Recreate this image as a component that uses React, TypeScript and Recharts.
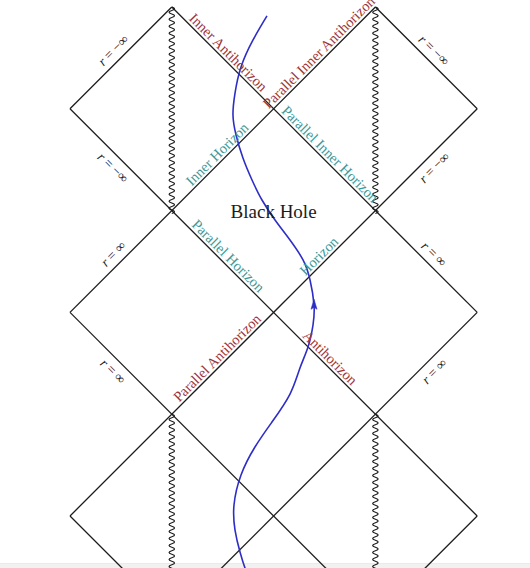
import React from "react";
import { LineChart, Line, XAxis, YAxis, ReferenceLine, ReferenceDot } from "recharts";

type Pt = [number, number];

// Diagram units: column 0–4 runs left to right, row 0–5 runs top to bottom.
const risingEdges: Pt[][] = [
  [[0, 1], [1, 0]],
  [[0, 3], [3, 0]],
  [[0, 5], [4, 1]],
  [[1.4, 5.6], [4, 3]],
  [[3.4, 5.6], [4, 5]],
];

const fallingEdges: Pt[][] = [
  [[1, 0], [4, 3]],
  [[0, 1], [4, 5]],
  [[0, 3], [2.6, 5.6]],
  [[0, 5], [0.6, 5.6]],
  [[3, 0], [4, 1]],
];

const singularities: Pt[][] = [
  [[1, 0], [1, 2]],
  [[3, 0], [3, 2]],
  [[1, 4], [1, 5.6]],
  [[3, 4], [3, 5.6]],
];

const worldline: Pt[] = [
  [1.935, 0.088], [1.798, 0.324], [1.68, 0.589], [1.621, 0.845], [1.601, 1.061],
  [1.631, 1.257], [1.699, 1.483], [1.788, 1.699], [1.886, 1.896], [2.014, 2.092],
  [2.161, 2.289], [2.289, 2.485], [2.358, 2.682], [2.397, 2.927], [2.387, 3.124],
  [2.338, 3.34], [2.259, 3.546], [2.161, 3.802], [1.984, 4.077], [1.817, 4.322],
  [1.68, 4.597], [1.611, 4.892], [1.621, 5.138], [1.67, 5.354], [1.719, 5.511],
  [1.749, 5.58],
];
const arrowAt: Pt = [2.397, 2.93];

const horizonNames = [
  "Inner Antihorizon",
  "Parallel Inner Antihorizon",
  "Inner Horizon",
  "Parallel Inner Horizon",
  "Parallel Horizon",
  "Horizon",
  "Parallel Antihorizon",
  "Antihorizon",
];
const horizonEdges: Pt[][] = [
  [[1, 0], [2, 1]],
  [[2, 1], [3, 0]],
  [[1, 2], [2, 1]],
  [[2, 1], [3, 2]],
  [[1, 2], [2, 3]],
  [[2, 3], [3, 2]],
  [[1, 4], [2, 3]],
  [[2, 3], [3, 4]],
];
const horizonIsAnti = [true, true, false, false, false, false, true, true];

const boundaryValues = ["−∞", "−∞", "−∞", "−∞", "∞", "∞", "∞", "∞"];
const boundaryEdges: Pt[][] = [
  [[0, 1], [1, 0]],
  [[0, 1], [1, 2]],
  [[3, 0], [4, 1]],
  [[4, 1], [3, 2]],
  [[0, 3], [1, 2]],
  [[0, 3], [1, 4]],
  [[3, 2], [4, 3]],
  [[4, 3], [3, 4]],
];

const regionName = "Black Hole";
const regionAt: Pt = [2, 2];

const UNIT = 101.8;
const X_DOMAIN = [-70 / UNIT, 460 / UNIT];
const Y_DOMAIN = [-7 / UNIT, 561 / UNIT];

const INK = "#1c1c1c";
const BLUE = "#2e2ec6";
const RED = "#9c3434";
const TEAL = "#379a9a";
const SERIF = '"Liberation Serif", "Times New Roman", serif';

const toRows = (pts: Pt[]) => pts.map(([x, y]) => ({ x, y }));

// angle and unit normal of an edge; units are square so this holds in pixels too
function edgeGeometry(edge: Pt[], pickNormal: (nx: number, ny: number, mx: number) => boolean) {
  let [[x1, y1], [x2, y2]] = edge;
  if (x2 < x1) [x1, y1, x2, y2] = [x2, y2, x1, y1];
  const dx = x2 - x1;
  const dy = y2 - y1;
  const len = Math.hypot(dx, dy);
  let nx = dy / len;
  let ny = -dx / len;
  const mx = (x1 + x2) / 2;
  const my = (y1 + y2) / 2;
  if (!pickNormal(nx, ny, mx)) {
    nx = -nx;
    ny = -ny;
  }
  return { mx, my, nx, ny, angle: (Math.atan2(dy, dx) * 180) / Math.PI };
}

// wavy stroke for the singularities
function Wiggle(props: any) {
  const { x1, y1, x2, y2 } = props;
  const top = Math.min(y1, y2);
  const bottom = Math.max(y1, y2);
  const half = 3.5;
  let d = `M${x1},${top}`;
  let side = 1;
  for (let y = top; y < bottom; y += half) {
    d += ` Q${x1 + side * 5.5},${y + half / 2} ${x1},${y + half}`;
    side = -side;
  }
  return <path d={d} fill="none" stroke={INK} strokeWidth={1.2} />;
}

function Arrowhead(props: any) {
  const { cx, cy } = props;
  return (
    <path
      d={`M${cx},${cy - 6} L${cx + 3},${cy + 4} L${cx},${cy + 2} L${cx - 3},${cy + 4} Z`}
      fill={BLUE}
      stroke={BLUE}
      strokeWidth={0.6}
    />
  );
}

function EdgeText({ cx, cy, nx, ny, gap, angle, color, size, children }: any) {
  const x = cx + nx * gap;
  const y = cy + ny * gap;
  return (
    <text
      x={x}
      y={y}
      fill={color}
      fontSize={size}
      fontFamily={SERIF}
      textAnchor="middle"
      dominantBaseline="central"
      transform={`rotate(${angle} ${x} ${y})`}
    >
      {children}
    </text>
  );
}

export default function App() {
  const edges = [...risingEdges, ...fallingEdges];

  return (
    <div
      style={{
        position: "absolute",
        left: 0,
        top: 0,
        width: 530,
        height: 568,
        background: "linear-gradient(to bottom, #ffffff 0px, #ffffff 563px, #e4e4e4 563px, #f1f1f1 564px)",
      }}
    >
      <LineChart width={530} height={568} margin={{ top: 0, right: 0, bottom: 0, left: 0 }}>
        <XAxis type="number" dataKey="x" domain={X_DOMAIN} allowDataOverflow hide />
        <YAxis type="number" domain={Y_DOMAIN} allowDataOverflow reversed hide />

        {edges.map((e, i) => (
          <Line
            key={`edge-${i}`}
            data={toRows(e)}
            dataKey="y"
            type="linear"
            stroke={INK}
            strokeWidth={1.3}
            dot={false}
            activeDot={false}
            isAnimationActive={false}
          />
        ))}

        {singularities.map(([[x1, y1], [x2, y2]], i) => (
          <ReferenceLine
            key={`sing-${i}`}
            segment={[{ x: x1, y: y1 }, { x: x2, y: y2 }]}
            ifOverflow="visible"
            shape={Wiggle}
          />
        ))}

        <Line
          data={toRows(worldline)}
          dataKey="y"
          type="natural"
          stroke={BLUE}
          strokeWidth={1.6}
          dot={false}
          activeDot={false}
          isAnimationActive={false}
        />
        <ReferenceDot x={arrowAt[0]} y={arrowAt[1]} r={0} ifOverflow="visible" shape={Arrowhead} />

        {horizonEdges.map((edge, i) => {
          const g = edgeGeometry(edge, (_nx, ny) => ny < 0);
          return (
            <ReferenceDot
              key={`hz-${i}`}
              x={g.mx}
              y={g.my}
              r={0}
              ifOverflow="visible"
              shape={(p: any) => (
                <EdgeText
                  cx={p.cx}
                  cy={p.cy}
                  nx={g.nx}
                  ny={g.ny}
                  gap={8}
                  angle={g.angle}
                  color={horizonIsAnti[i] ? RED : TEAL}
                  size={14.5}
                >
                  {horizonNames[i]}
                </EdgeText>
              )}
            />
          );
        })}

        {boundaryEdges.map((edge, i) => {
          const g = edgeGeometry(edge, (nx, _ny, mx) => (mx < 2 ? nx < 0 : nx > 0));
          return (
            <ReferenceDot
              key={`bd-${i}`}
              x={g.mx}
              y={g.my}
              r={0}
              ifOverflow="visible"
              shape={(p: any) => (
                <EdgeText cx={p.cx} cy={p.cy} nx={g.nx} ny={g.ny} gap={11} angle={g.angle} color={INK} size={13.5}>
                  <tspan fontStyle="italic">r</tspan>
                  {` = ${boundaryValues[i]}`}
                </EdgeText>
              )}
            />
          );
        })}

        <ReferenceDot
          x={regionAt[0]}
          y={regionAt[1]}
          r={0}
          ifOverflow="visible"
          shape={(p: any) => (
            <text x={p.cx} y={p.cy + 7.5} fill={INK} fontSize={19} fontFamily={SERIF} textAnchor="middle">
              {regionName}
            </text>
          )}
        />
      </LineChart>
    </div>
  );
}
